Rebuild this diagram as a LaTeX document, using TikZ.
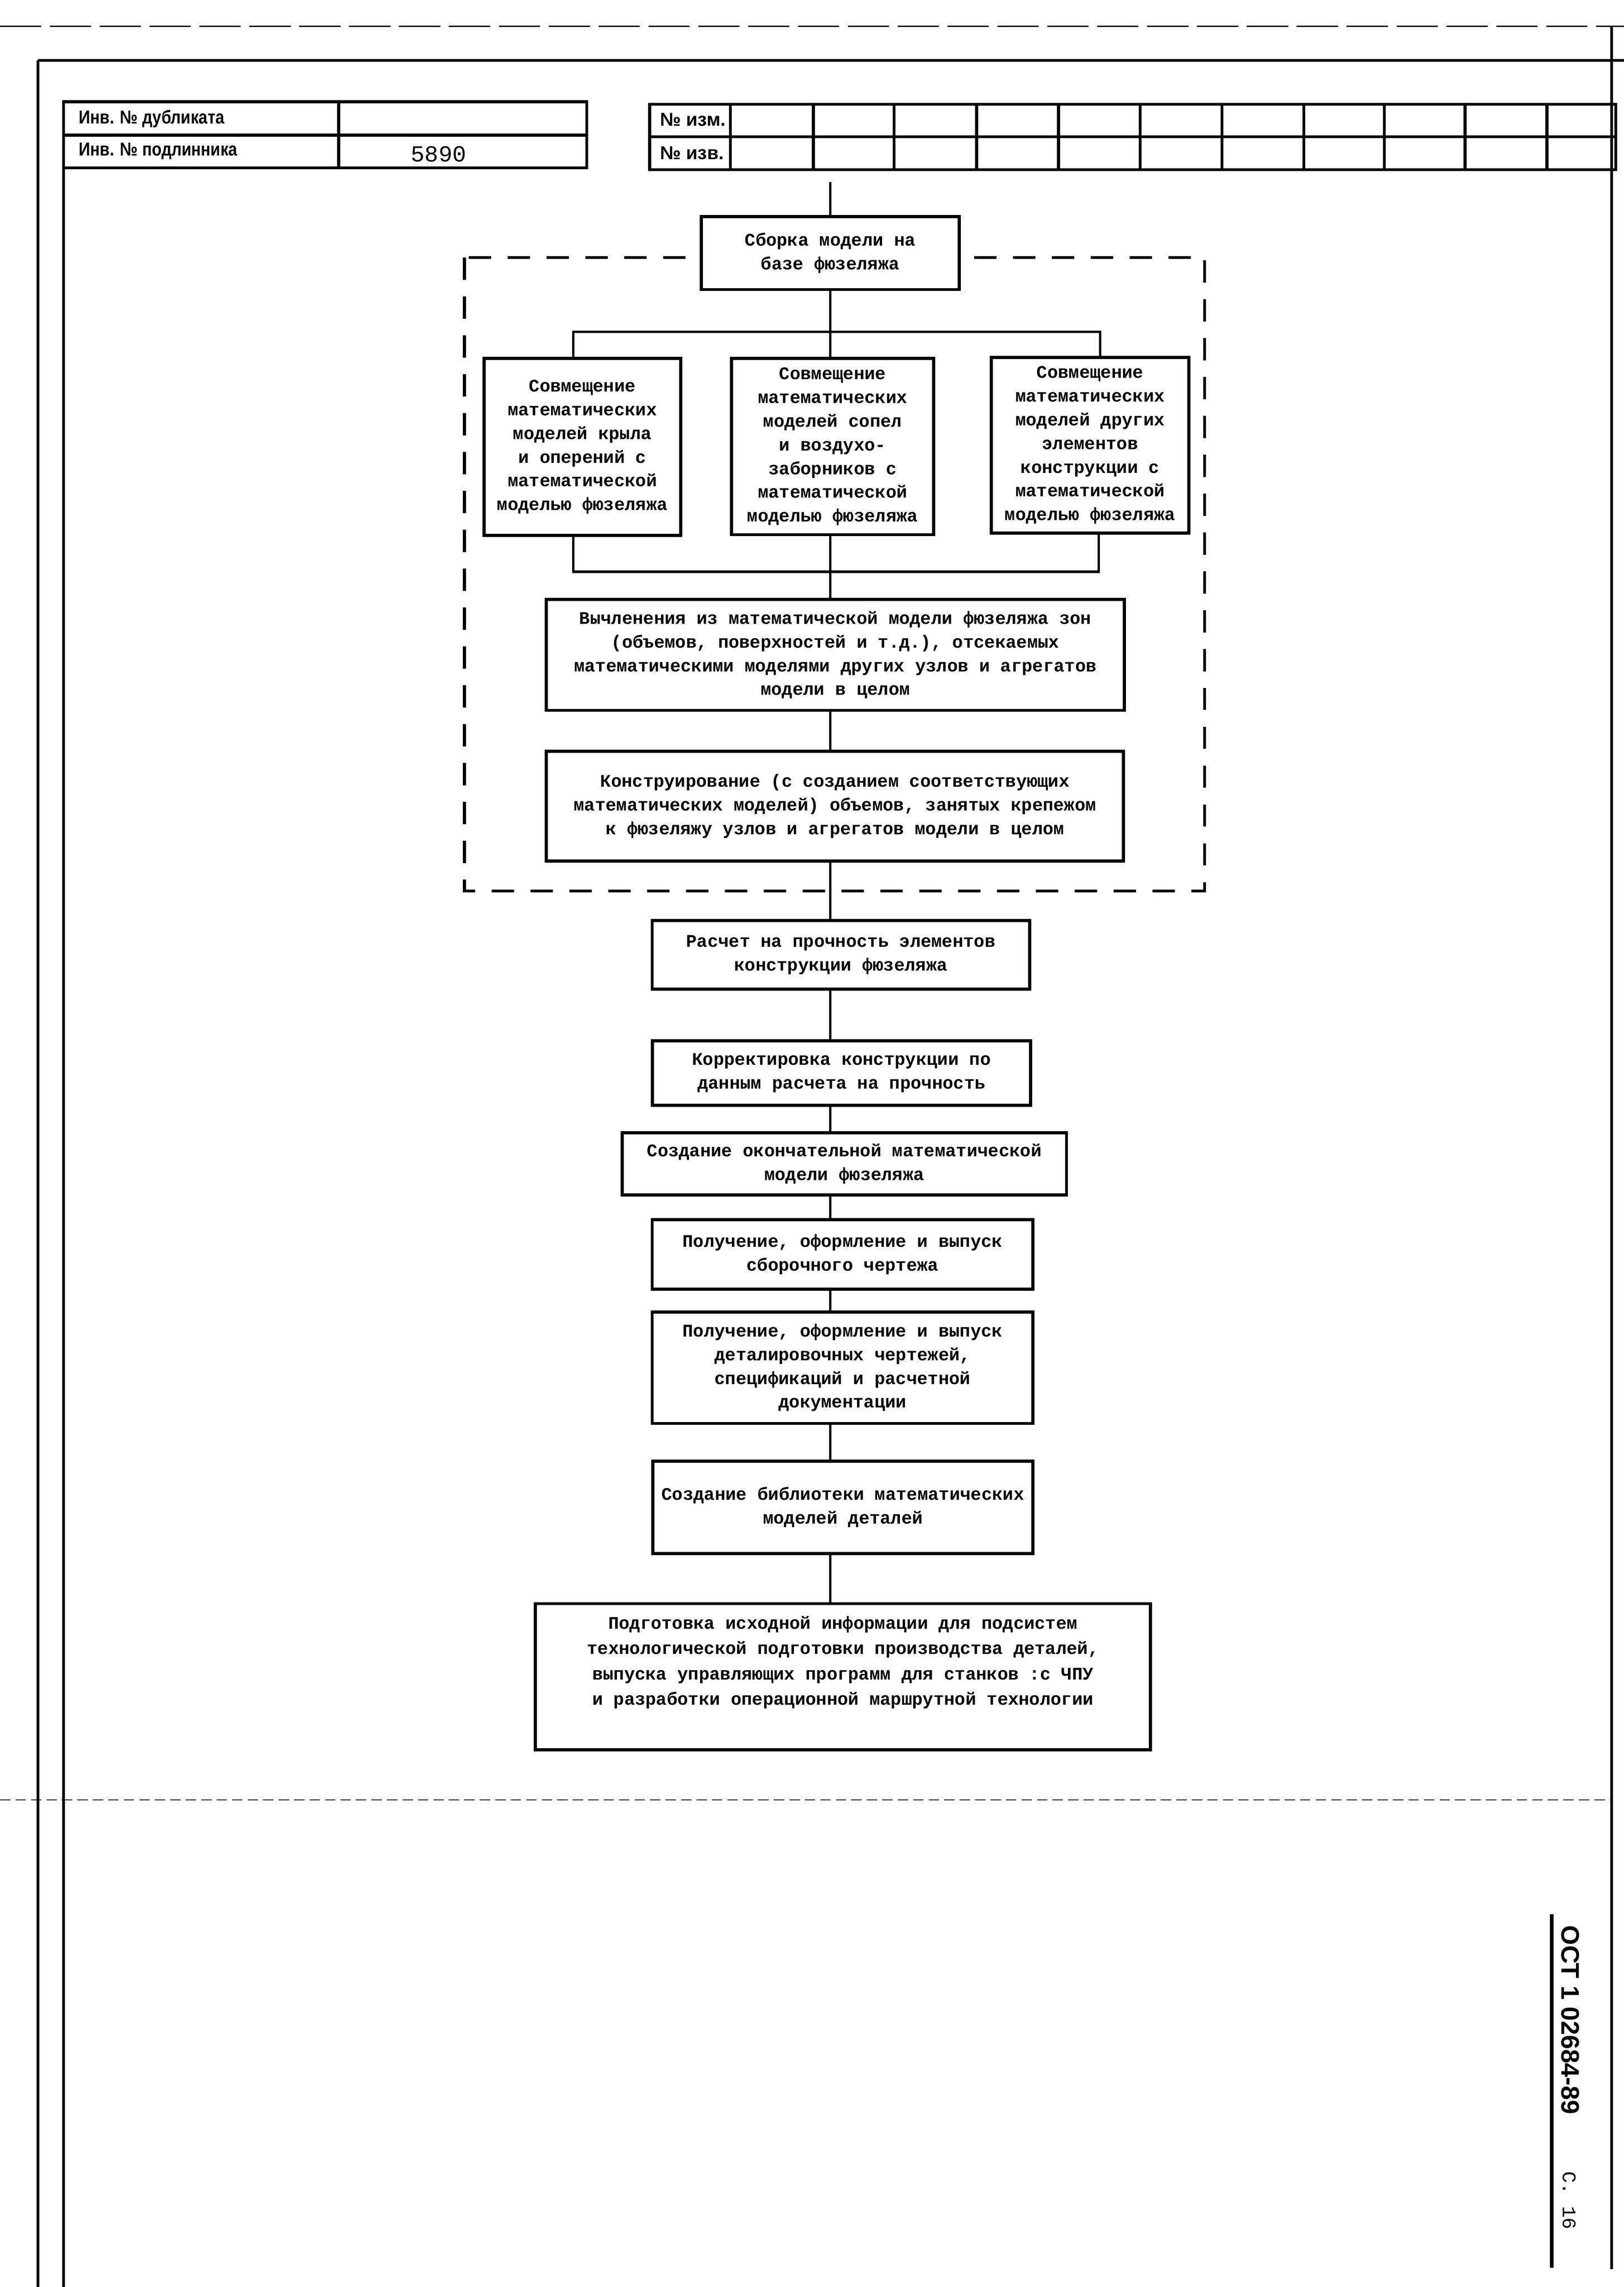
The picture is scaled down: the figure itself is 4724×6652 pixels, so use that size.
\documentclass[tikz,border=0pt]{standalone}
\usepackage{fontspec}
\usepackage{graphicx}
\setmainfont{Liberation Serif}
\newfontfamily\twfont{Liberation Mono}
\newfontfamily\hdfont{Liberation Sans}
\begin{document}
\begin{tikzpicture}[x=0.01cm,y=-0.01cm,
  frame/.style={line width=2.4pt},
  conn/.style={line width=1.9pt},
  fbox/.style={draw,line width=2.6pt,fill=white,inner sep=0pt,align=center,
     font=\twfont\bfseries\fontsize{14.7}{19.6}\selectfont},
  hd/.style={font=\hdfont\bfseries\fontsize{15.5}{18}\selectfont,inner sep=0pt},
  dashbox/.style={line width=2.3pt,dash pattern=on 0.65cm off 0.48cm},
]
\useasboundingbox (0,0) rectangle (4724,6652);
% sheet frame
\draw[line width=1.2pt,dash pattern=on 1.2cm off 0.25cm] (0,77) -- (4724,77);
\draw[frame] (110,176) -- (4724,176);
\draw[frame] (110,176) -- (110,6652);
\draw[frame] (185,296) -- (185,6652);
\draw[frame] (4688,77) -- (4688,6600);
\draw[line width=0.8pt,dash pattern=on 0.3cm off 0.15cm] (0,5235) -- (4688,5235);
% header tables
\draw[frame] (185,296) rectangle (1707,488);
\draw[frame] (185,393) -- (1707,393);
\draw[frame] (985,296) -- (985,488);
\draw[frame] (1890,303) rectangle (4700,494);
\draw[frame] (1890,398) -- (4700,398);
\foreach \cx in {2125,2366,2601,2841,3079,3317,3555,3793,4027,4262,4500}
  \draw[frame] (\cx,303) -- (\cx,494);
\node[hd,anchor=west] (t1) at (229,345) {\scalebox{0.85}[1]{Инв. № дубликата}};
\node[hd,anchor=west] (t2) at (229,440) {\scalebox{0.85}[1]{Инв. № подлинника}};
\node[font=\twfont\fontsize{19}{22}\selectfont,inner sep=0pt] (t3) at (1276,448) {5890};
\node[hd,anchor=west] (t4) at (1920,348) {№ изм.};
\node[hd,anchor=west] (t5) at (1920,445) {№ изв.};
% right stamp
\draw[line width=2.8pt] (4514,5568) -- (4514,6596);
\node[rotate=-90,font=\hdfont\bfseries\fontsize{21}{24}\selectfont,inner sep=0pt] (ost) at (4568,5875) {ОСТ 1 02684-89};
\node[rotate=-90,font=\twfont\fontsize{16}{18}\selectfont,inner sep=0pt] (pg) at (4565,6400) {С. 16};
% dashed group
\draw[dashbox] (1351,749) rectangle (3504,2592);
% flowchart
\coordinate (cx) at (2415,0);
\coordinate (in) at (2415,530);
\node[fbox,minimum width=7.5cm,minimum height=2.12cm] (b1) at (2415,736) {Сборка модели на\\базе фюзеляжа};
\node[fbox,minimum width=5.72cm,minimum height=5.15cm] (b2) at (1694,1300) {Совмещение\\математических\\моделей крыла\\и оперений с\\математической\\моделью фюзеляжа};
\node[fbox,minimum width=5.87cm,minimum height=5.12cm] (b3) at (2422,1299) {Совмещение\\математических\\моделей сопел\\и воздухо-\\заборников с\\математической\\моделью фюзеляжа};
\node[fbox,minimum width=5.75cm,minimum height=5.11cm] (b4) at (3171,1295) {Совмещение\\математических\\моделей других\\элементов\\конструкции с\\математической\\моделью фюзеляжа};
\node[fbox,minimum width=16.8cm,minimum height=3.22cm] (b5) at (2430,1905) {Вычленения из математической модели фюзеляжа зон\\(объемов, поверхностей и т.д.), отсекаемых\\математическими моделями других узлов и агрегатов\\модели в целом};
\node[fbox,minimum width=16.78cm,minimum height=3.19cm] (b6) at (2429,2345) {Конструирование (с созданием соответствующих\\математических моделей) объемов, занятых крепежом\\к фюзеляжу узлов и агрегатов модели в целом};
\node[fbox,minimum width=10.97cm,minimum height=1.99cm] (b7) at (2446,2777) {Расчет на прочность элементов\\конструкции фюзеляжа};
\node[fbox,minimum width=11.0cm,minimum height=1.88cm] (b8) at (2448,3121) {Корректировка конструкции по\\данным расчета на прочность};
\node[fbox,minimum width=12.92cm,minimum height=1.8cm] (b9) at (2456,3385) {Создание окончательной математической\\модели фюзеляжа};
\node[fbox,minimum width=11.07cm,minimum height=2.02cm] (b10) at (2451,3649) {Получение, оформление и выпуск\\сборочного чертежа};
\node[fbox,minimum width=11.07cm,minimum height=3.24cm] (b11) at (2451,3978) {Получение, оформление и выпуск\\деталировочных чертежей,\\спецификаций и расчетной\\документации};
\node[fbox,minimum width=11.05cm,minimum height=2.68cm] (b12) at (2452,4384) {Создание библиотеки математических\\моделей деталей};
\node[fbox,minimum width=17.89cm,minimum height=4.25cm,font=\twfont\bfseries\fontsize{14.7}{21}\selectfont] (b13) at (2452,4877) {Подготовка исходной информации для подсистем\\технологической подготовки производства деталей,\\выпуска управляющих программ для станков :с ЧПУ\\и разработки операционной маршрутной технологии\\[0.2cm]};
% connectors
\coordinate (bL) at (1668,965);
\coordinate (bR) at (3200,965);
\coordinate (mL) at (1668,1663);
\coordinate (mR) at (3196,1663);
\draw[conn] (in) -- (b1.north -| cx);
\draw[conn] (b1.south -| cx) -- (b3.north -| cx);
\draw[conn] (bL |- b2.north) -- (bL) -- (bR) -- (bR |- b4.north);
\draw[conn] (mL |- b2.south) -- (mL) -- (mR) -- (mR |- b4.south);
\draw[conn] (b3.south -| cx) -- (b5.north -| cx);
\draw[conn] (b5.south -| cx) -- (b6.north -| cx);
\draw[conn] (b6.south -| cx) -- (b7.north -| cx);
\draw[conn] (b7.south -| cx) -- (b8.north -| cx);
\draw[conn] (b8.south -| cx) -- (b9.north -| cx);
\draw[conn] (b9.south -| cx) -- (b10.north -| cx);
\draw[conn] (b10.south -| cx) -- (b11.north -| cx);
\draw[conn] (b11.south -| cx) -- (b12.north -| cx);
\draw[conn] (b12.south -| cx) -- (b13.north -| cx);
\end{tikzpicture}
\end{document}
